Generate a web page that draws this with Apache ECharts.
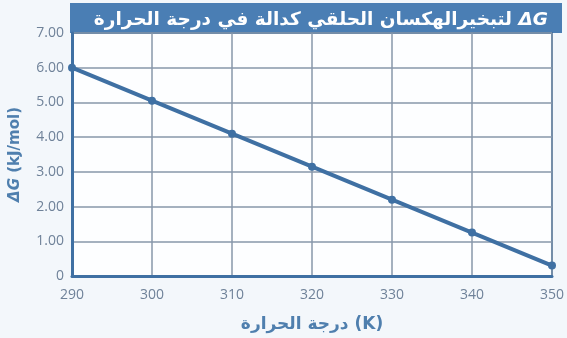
<!DOCTYPE html>
<html>
<head>
<meta charset="utf-8">
<script src="https://cdn.jsdelivr.net/npm/echarts@6/dist/echarts.min.js"></script>
<style>
  html, body { margin: 0; padding: 0; background: #f3f7fb; }
  #chart { width: 567px; height: 338px; }
</style>
</head>
<body>
<div id="chart"></div>
<script>
// درجة الحرارة (K) و ΔG (kJ/mol)
const temps = [290, 300, 310, 320, 330, 340, 350]
const deltaG = [6.0, 5.05, 4.1, 3.15, 2.2, 1.25, 0.3]

const blue = '#3f70a3'
const chart = echarts.init(document.getElementById('chart'))

chart.setOption({
  backgroundColor: '#f3f7fb',
  animation: false,
  title: {
    // ΔG last so the rich-text segment lands at the right end
    text: 'لتبخيرالهكسان الحلقي كدالة في درجة الحرارة {d|ΔG}',
    right: 14,
    top: 6,
    textStyle: {
      color: '#fff',
      fontSize: 18.5,
      fontWeight: 'bold',
      fontFamily: 'DejaVu Sans',
      rich: {
        d: { color: '#fff', fontSize: 18.5, fontWeight: 'bold', fontStyle: 'italic', fontFamily: 'DejaVu Sans' }
      }
    }
  },
  graphic: [
    {
      type: 'rect',
      z: -1,
      shape: { x: 70, y: 3, width: 492, height: 30 },
      style: { fill: '#4a7eb4' }
    }
  ],
  grid: {
    left: 72,
    right: 12,
    top: 33,
    bottom: 60,
    show: true,
    backgroundColor: '#fdfeff',
    borderColor: blue,
    borderWidth: 2
  },
  xAxis: {
    type: 'value',
    min: 290,
    max: 350,
    interval: 10,
    name: 'درجة الحرارة (K)',
    nameLocation: 'middle',
    nameGap: 40,
    nameTextStyle: { color: '#4f7fae', fontSize: 17, fontWeight: 'bold', fontFamily: 'DejaVu Sans' },
    axisLine: { show: true, lineStyle: { color: blue, width: 3 } },
    axisTick: { show: false },
    axisLabel: { color: '#6f8299', fontSize: 14, margin: 12, fontFamily: 'Open Sans' },
    splitLine: { show: true, lineStyle: { color: '#8797aa', width: 1.5 } }
  },
  yAxis: {
    type: 'value',
    min: 0,
    max: 7,
    interval: 1,
    name: '{g|ΔG} (kJ/mol)',
    nameLocation: 'middle',
    nameGap: 49,
    nameRotate: 90,
    nameTextStyle: {
      color: '#4f7fae', fontSize: 15, fontWeight: 'bold', fontFamily: 'DejaVu Sans',
      rich: { g: { color: '#4f7fae', fontSize: 15, fontWeight: 'bold', fontStyle: 'italic', fontFamily: 'DejaVu Sans' } }
    },
    axisLine: { show: true, lineStyle: { color: blue, width: 3 } },
    axisTick: { show: false },
    axisLabel: {
      color: '#6f8299', fontSize: 14, margin: 8, fontFamily: 'Open Sans',
      formatter: v => v === 0 ? '0' : v.toFixed(2)
    },
    splitLine: { show: true, lineStyle: { color: '#8797aa', width: 1.5 } }
  },
  series: [
    {
      type: 'line',
      data: temps.map((t, i) => [t, deltaG[i]]),
      symbol: 'circle',
      symbolSize: 8,
      lineStyle: { color: blue, width: 4 },
      itemStyle: { color: blue },
      clip: false
    }
  ]
})
</script>
</body>
</html>
